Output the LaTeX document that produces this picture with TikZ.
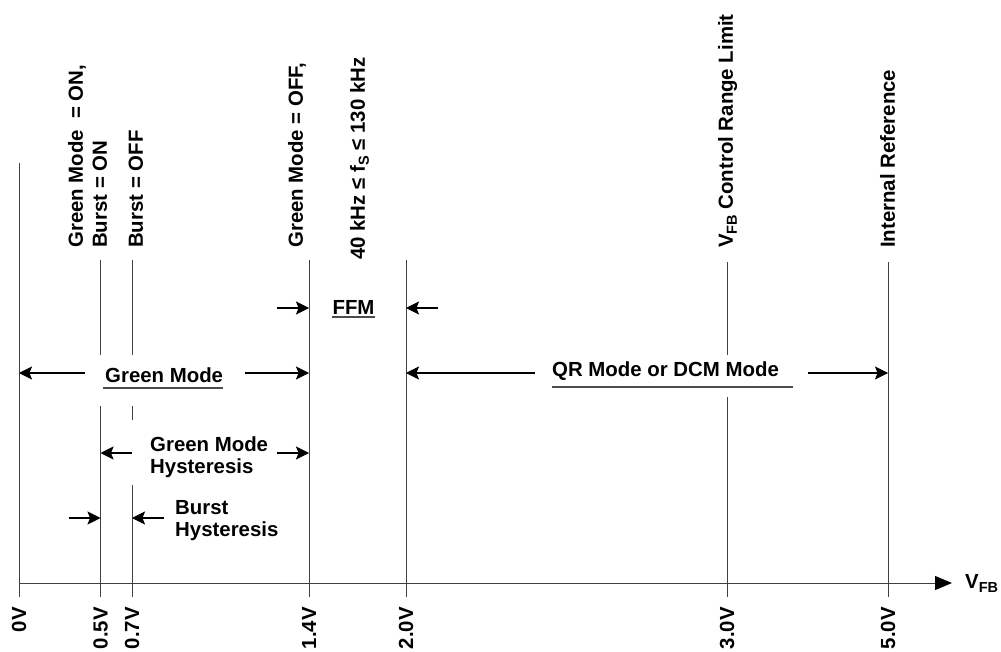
\documentclass[tikz,border=0pt]{standalone}
\usepackage{fontspec}
\setmainfont{Liberation Sans}
\usepackage{tikz}
\usetikzlibrary{calc}
\usetikzlibrary{positioning}
\usetikzlibrary{arrows.meta}

\newcommand{\fsub}[1]{\raisebox{-4pt}{\fontsize{14.5}{14.5}\selectfont #1}}

\tikzset{
    vline/.style={black!75, line width=0.9pt},
    dimarrow/.style={line width=1.1pt, -{Stealth[length=13pt, width=13pt, inset=2.5pt]}},
    axisarrow/.style={black!75, line width=1pt, -{Triangle[length=17pt, width=14pt, black]}, shorten >=-1pt},
    uline/.style={black!70, line width=1.3pt},
    lbl/.style={font=\fontsize{20.4}{22}\selectfont\bfseries, inner sep=0pt, align=left},
    vlbl/.style={lbl, rotate=90, anchor=south west, text depth=0pt},
    ticklbl/.style={lbl, rotate=90, anchor=east},
}

\begin{document}
\begin{tikzpicture}[x=1pt, y=-1pt]

        \def\ax{583}
        \def\tk{597}

        \useasboundingbox (0,0) rectangle (1001,652);

        % Top and bottom end of every voltage line
        \foreach \n/\x/\ya in {0/19/163, 05/100.5/260, 07/132/260, 14/309/260,
                               20/406/260, 30/727/262, 50/888/262}
        {
            \coordinate (T\n) at (\x, \ya);
            \coordinate (B\n) at (\x, \tk);
        }

        % Heights where the lines are broken
        \coordinate (g1) at (0, 355);
        \coordinate (g2) at (0, 406);
        \coordinate (g3) at (0, 420);
        \coordinate (g4) at (0, 485);
        \coordinate (g5) at (0, 397);

        \begin{scope}[vline]
            \draw (T0) -- (B0);
            \draw (T05) -- (T05 |- g1) (T05 |- g2) -- (B05);
            \draw (T07) -- (T07 |- g1) (T07 |- g2) -- (T07 |- g3)
                  (T07 |- g4) -- (B07);
            \draw (T14) -- (B14);
            \draw (T20) -- (B20);
            \draw (T30) -- (T30 |- g1) (T30 |- g5) -- (B30);
            \draw (T50) -- (B50);
        \end{scope}

        % Axis
        \coordinate (O) at (19, \ax);
        \coordinate (E) at (951, \ax);
        \draw[axisarrow] (O) -- (E);
        \node[lbl, anchor=base west] (VFB) at (965, 588) {V\fsub{FB}};

        \foreach \n/\v in {0/0V, 05/0.5V, 07/0.7V, 14/1.4V, 20/2.0V, 30/3.0V, 50/5.0V}
        \node[ticklbl] (L\n) at ([yshift=-10pt]B\n) {\v};

        % Labels above the lines
        \node[vlbl, font=\fontsize{20.4}{24}\selectfont\bfseries] (GMon) at (107, 248)
        {Green Mode\ \ = ON,\\Burst = ON};
        \node[vlbl] (Boff) at (143, 248) {Burst = OFF};
        \node[vlbl] (GMoff) at (303, 248) {Green Mode = OFF,};
        \node[vlbl] (Freq) at (365, 260) {40 kHz ≤ f\fsub{S} ≤ 130 kHz};
        \node[vlbl] (Lim) at (733, 248) {V\fsub{FB} Control Range Limit};
        \node[vlbl] (Ref) at (895, 248) {Internal Reference};

        % FFM
        \node[lbl, anchor=base] (FFM) at (353.5, 314) {FFM};
        \draw[uline] ([yshift=-3pt]FFM.base west) -- ([yshift=-3pt]FFM.base east);
        \coordinate (fa) at (309, 308);
        \coordinate (fb) at (406, 308);
        \coordinate[left=32pt of fa] (fa0);
        \coordinate[right=32pt of fb] (fb0);

        % Green Mode
        \node[lbl, anchor=base west] (GM) at (105, 382) {Green Mode};
        \draw[uline] ([xshift=-2pt, yshift=-6pt]GM.base west)
              -- ([yshift=-6pt]GM.base east);
        \coordinate (ga) at (19, 373);
        \coordinate (gb) at (309, 373);
        \coordinate[right=66pt of ga] (ga0);
        \coordinate[left=64pt of gb] (gb0);

        % QR Mode or DCM Mode
        \node[lbl, anchor=base west] (QR) at (552, 376) {QR Mode or DCM Mode};
        \draw[uline] ([yshift=-11pt]QR.base west) -- ([xshift=14pt, yshift=-11pt]QR.base east);
        \coordinate (qa) at (406, 373);
        \coordinate (qb) at (888, 373);
        \coordinate[right=129pt of qa] (qa0);
        \coordinate[left=80pt of qb] (qb0);

        % Hysteresis bands
        \node[lbl, anchor=north west] (GMH) at (150, 437) {Green Mode\\Hysteresis};
        \coordinate (ha) at (100.5, 453);
        \coordinate (hb) at (309, 453);
        \coordinate[right=31.5pt of ha] (ha0);
        \coordinate[left=32pt of hb] (hb0);

        \node[lbl, anchor=north west] (BH) at (175, 500) {Burst\\Hysteresis};
        \coordinate (ba) at (100.5, 518);
        \coordinate (bb) at (132, 518);
        \coordinate[left=31.5pt of ba] (ba0);
        \coordinate[right=32pt of bb] (bb0);

        \begin{scope}[dimarrow]
            \draw (fa0) -- (fa);
            \draw (fb0) -- (fb);
            \draw (ga0) -- (ga);
            \draw (gb0) -- (gb);
            \draw (qa0) -- (qa);
            \draw (qb0) -- (qb);
            \draw (ha0) -- (ha);
            \draw (hb0) -- (hb);
            \draw (ba0) -- (ba);
            \draw (bb0) -- (bb);
        \end{scope}

        \end{tikzpicture}
\end{document}
